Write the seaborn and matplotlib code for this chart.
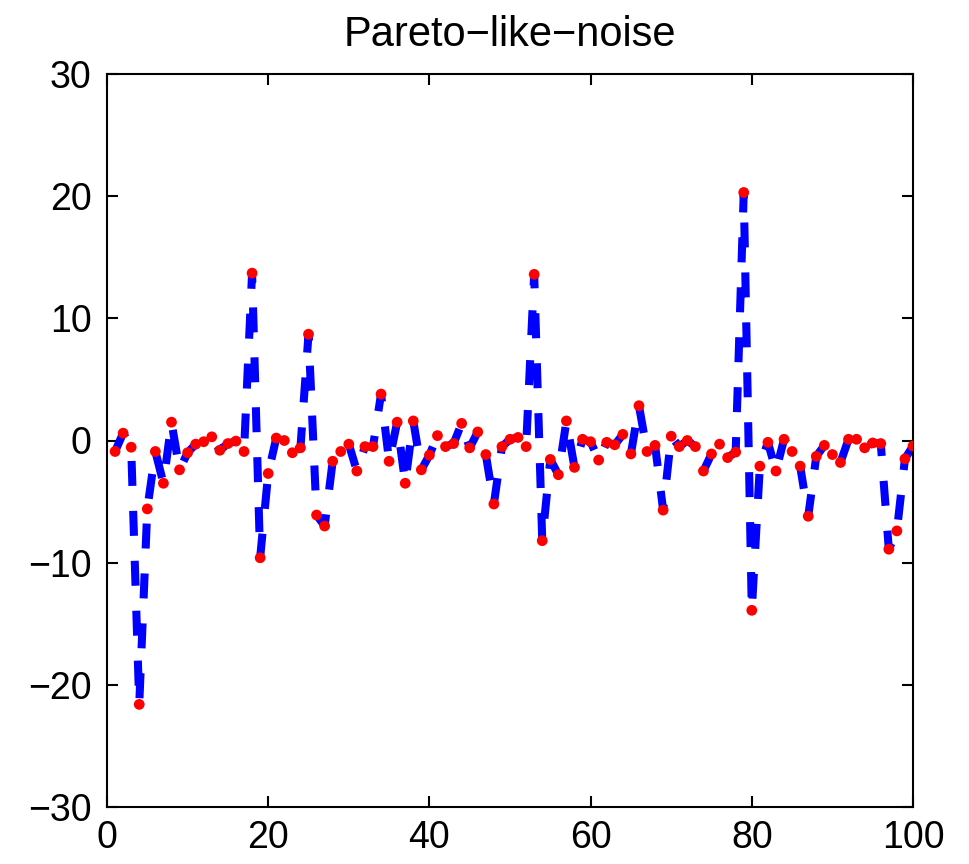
import numpy as np
import pandas as pd
import matplotlib
matplotlib.use("Agg")
import matplotlib.pyplot as plt
import seaborn as sns

x_vals = list(range(1, 101))
y_vals = [
    -0.9, 0.6, -0.55, -21.6, -5.6, -0.9, -3.5, 1.5, -2.4, -1.0,
    -0.3, -0.1, 0.3, -0.8, -0.25, -0.05, -0.9, 13.7, -9.6, -2.7,
    0.2, 0.0, -1.0, -0.6, 8.7, -6.1, -7.0, -1.7, -0.9, -0.3,
    -2.5, -0.5, -0.5, 3.8, -1.7, 1.5, -3.5, 1.6, -2.4, -1.2,
    0.4, -0.5, -0.25, 1.4, -0.6, 0.7, -1.15, -5.2, -0.5, 0.1,
    0.25, -0.5, 13.6, -8.2, -1.55, -2.8, 1.6, -2.2, 0.1, -0.1,
    -1.6, -0.15, -0.35, 0.5, -1.1, 2.85, -0.9, -0.4, -5.7, 0.35,
    -0.5, 0.0, -0.5, -2.5, -1.1, -0.3, -1.4, -0.95, 20.3, -13.9,
    -2.1, -0.15, -2.5, 0.1, -0.9, -2.1, -6.2, -1.3, -0.4, -1.15,
    -1.8, 0.1, 0.1, -0.6, -0.2, -0.25, -8.9, -7.4, -1.5, -0.45,
]
x_ticks = [0, 20, 40, 60, 80, 100]
y_ticks = [-30, -20, -10, 0, 10, 20, 30]
title = "Pareto\u2212like\u2212noise"

df = pd.DataFrame({"x": x_vals, "y": y_vals})

sns.set_theme(style="white")
plt.rcParams["font.family"] = ["Liberation Sans", "DejaVu Sans"]

fig = plt.figure(figsize=(9.69, 8.64), dpi=100)
ax = fig.add_axes([107/969, 1-807/864, (913-107)/969, (807-74)/864])

sns.lineplot(data=df, x="x", y="y", ax=ax, color="#0000ff", linewidth=5.8,
             zorder=2)
ax.lines[0].set_dashes((3.1, 3.1))
ax.lines[0].set_dash_capstyle("butt")
sns.scatterplot(data=df, x="x", y="y", ax=ax, color="#ff0000", s=60,
                edgecolor="none", linewidth=0, zorder=3)

ax.set_xlim(0, 100)
ax.set_ylim(-30, 30)
ax.set_xticks(x_ticks)
ax.set_yticks(y_ticks)
ax.set_xlabel("")
ax.set_ylabel("")
ax.tick_params(direction="in", length=8, width=1.5, labelsize=27,
               top=True, right=True, bottom=True, left=True,
               colors="black")
ax.tick_params(axis="y", pad=11)
ax.tick_params(axis="x", pad=9)
for s in ax.spines.values():
    s.set_visible(True)
    s.set_color("black")
    s.set_linewidth(1.5)
ax.set_title(title, fontsize=30, pad=20, color="black")

fig.savefig("out.png", dpi=100, facecolor="white")
